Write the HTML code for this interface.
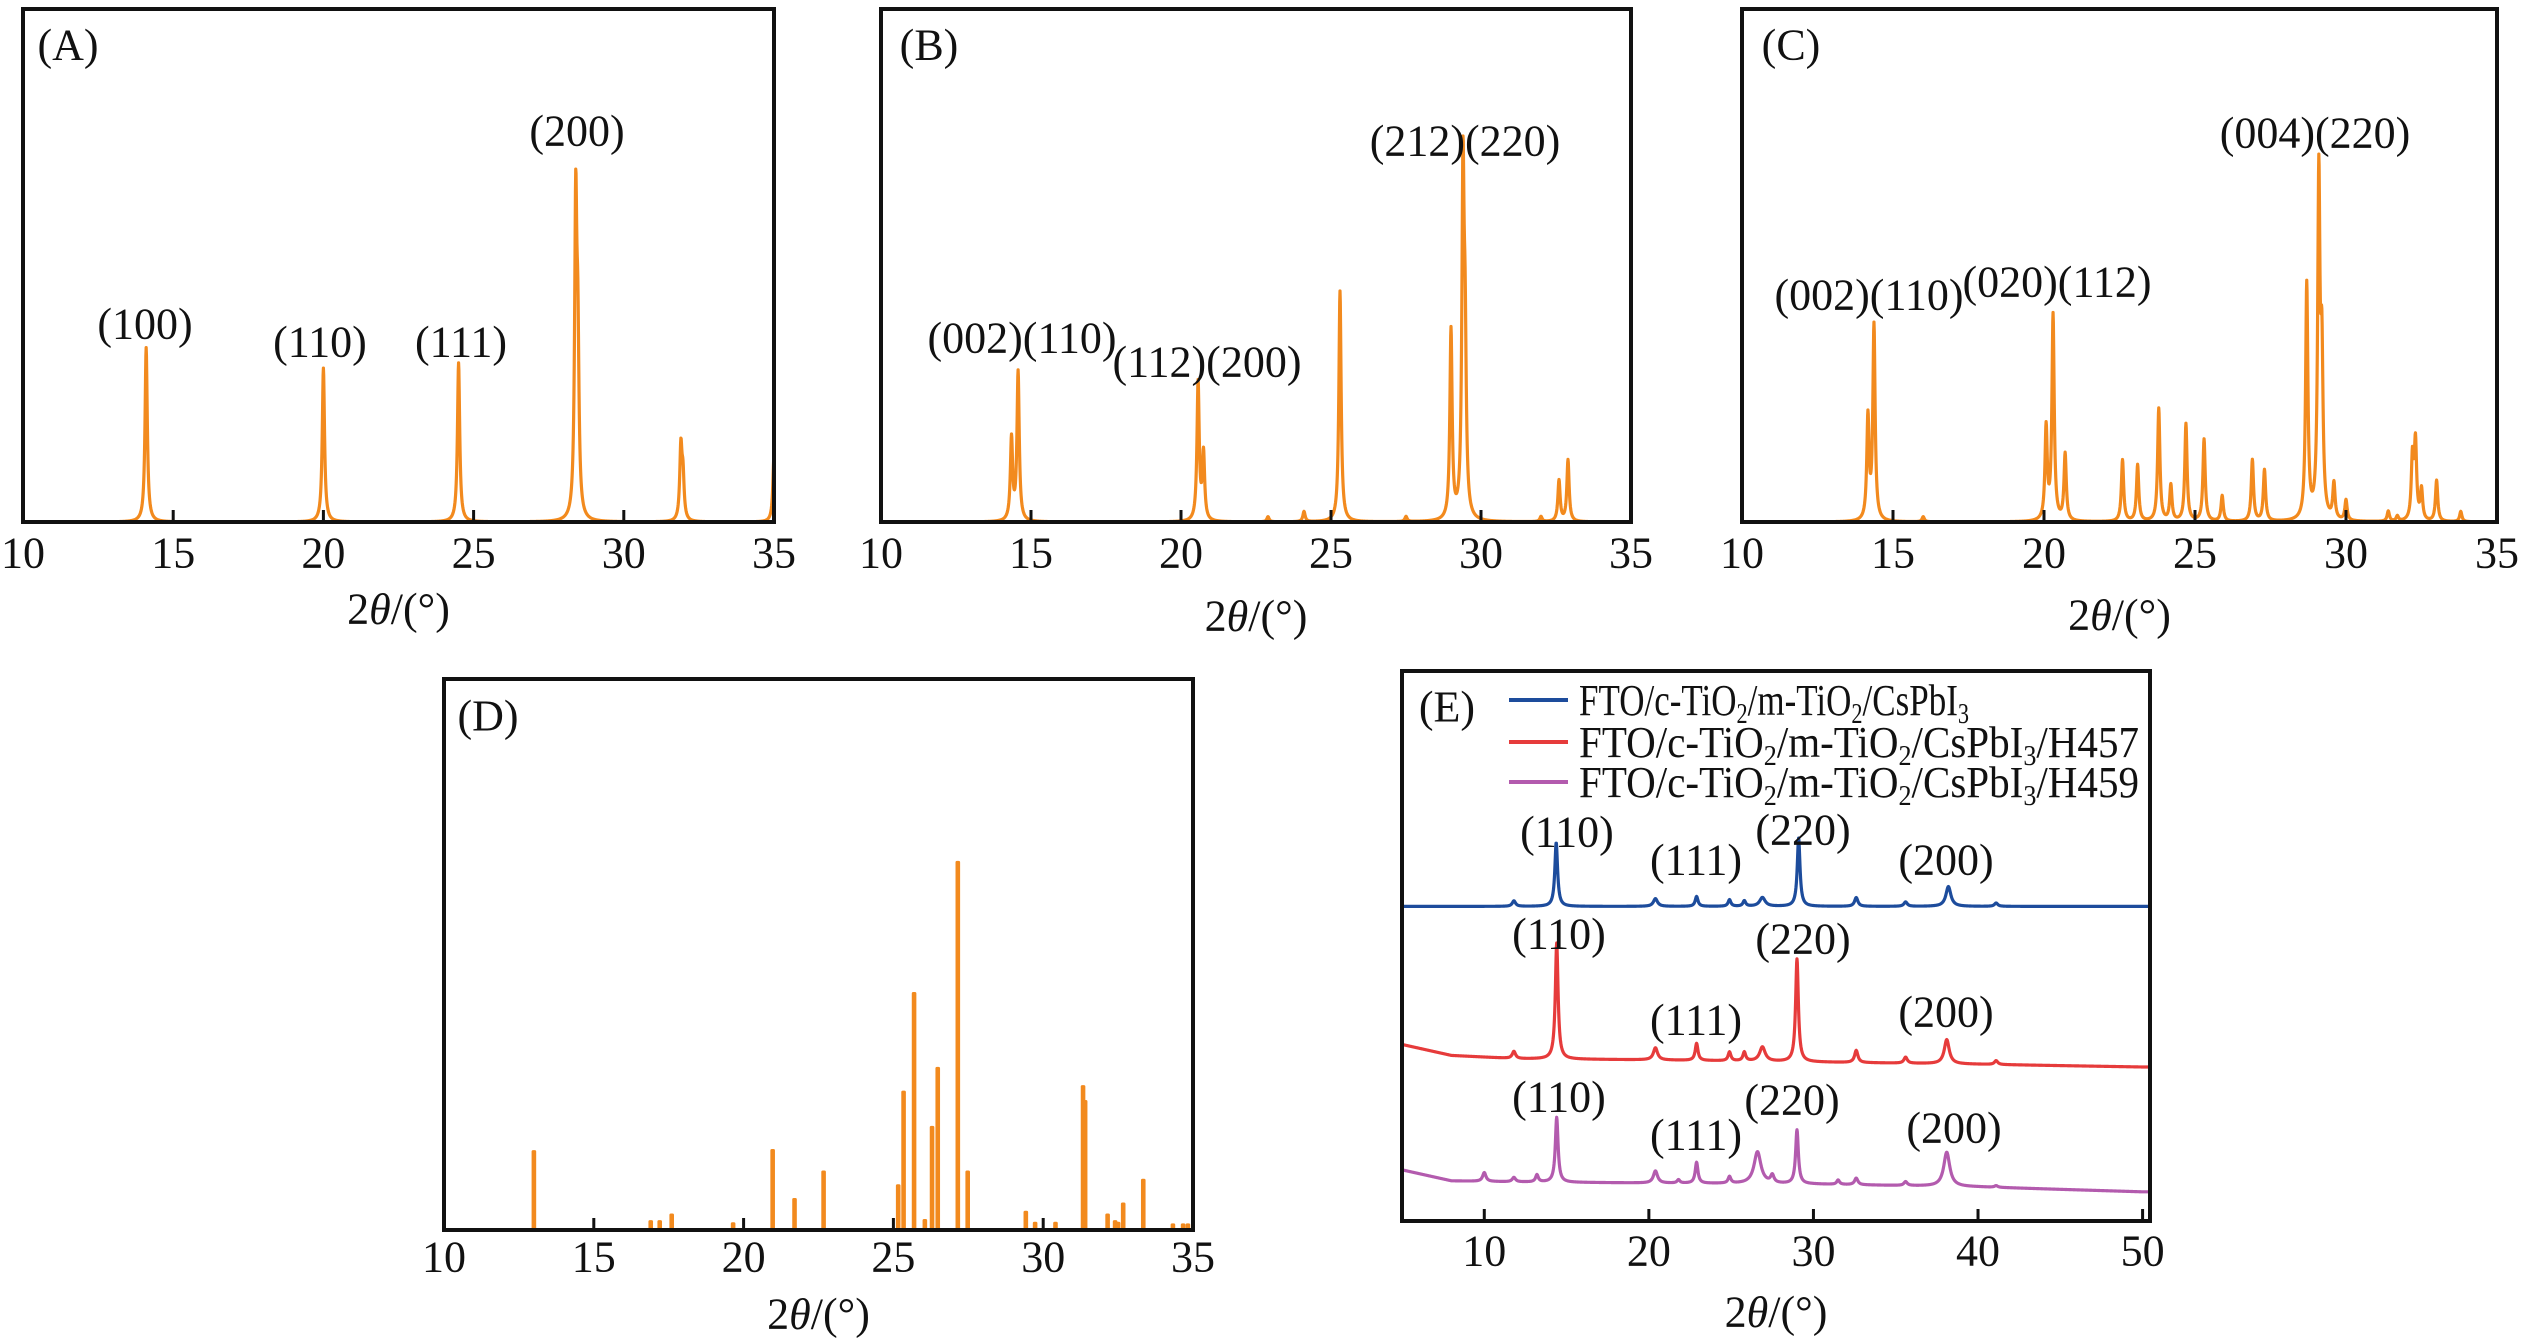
<!DOCTYPE html>
<html><head><meta charset="utf-8"><style>
html,body{margin:0;padding:0;background:#fff;}
svg{display:block;}
text{font-family:"Liberation Serif",serif;fill:#111;}
</style></head><body>
<svg id="fig" width="2527" height="1338" viewBox="0 0 2527 1338" xmlns="http://www.w3.org/2000/svg"></svg>
<script>
// ---- Panel A data (2θ peak positions, relative heights 0-100 of frame) ----
const peaksA_pos = [14.1, 20.0, 24.5, 28.4, 28.47, 31.9, 31.97, 35.0];
const peaksA_h   = [34, 30, 31, 60, 30, 14, 8, 13];
const labelsA = ["(100)", "(110)", "(111)", "(200)"];
// ---- Panel B ----
const peaksB_pos = [14.35, 14.57, 20.57, 20.75, 22.9, 24.1, 25.3, 27.5, 29.0, 29.4, 29.47, 32.0, 32.6, 32.9];
const peaksB_h   = [16, 29, 27, 13, 1, 2, 45, 1, 37, 66, 30, 1, 8, 12];
const labelsB = ["(002)(110)", "(112)(200)", "(212)(220)"];
// ---- Panel C ----
const peaksC_pos = [14.17, 14.37, 16.0, 20.07, 20.3, 20.7, 22.6, 23.1, 23.8, 24.2, 24.7, 25.3, 25.9, 26.9, 27.3, 28.7, 29.1, 29.2, 29.6, 30.0, 31.4, 31.7, 32.2, 32.3, 32.5, 33.0, 33.8];
const peaksC_h   = [20, 38, 1, 18, 40, 13, 12, 11, 22, 7, 19, 16, 5, 12, 10, 46, 66, 30, 7, 4, 2, 1, 12, 15, 6, 8, 2];
const labelsC = ["(002)(110)", "(020)(112)", "(004)(220)"];
// ---- Panel D (stick pattern) ----
const barsD_pos = [13.0, 16.9, 17.2, 17.6, 19.65, 20.97, 21.7, 22.67, 25.16, 25.34, 25.69, 26.05, 26.29, 26.48, 27.15, 27.48, 29.42, 29.73, 30.41, 31.33, 31.4, 32.15, 32.4, 32.5, 32.67, 33.34, 34.33, 34.67, 34.83];
const barsD_h   = [14.5, 1.8, 1.8, 3, 1.4, 14.7, 5.8, 10.8, 8.3, 25.3, 43.2, 2, 18.9, 29.6, 67, 10.8, 3.5, 1.5, 1.5, 26.3, 23.6, 3, 1.8, 1.5, 5, 9.3, 1.2, 1.2, 1.2];
// ---- Panel E (measured films) ----
const xTicksABCD = [10, 15, 20, 25, 30, 35];
const xTicksE = [10, 20, 30, 40, 50];
const baseE_x = [5, 8, 12, 20, 30, 40, 50];
const baseBlue = [57.2, 57.2, 57.2, 57.2, 57.2, 57.2, 57.2];
const baseRed = [32.1, 30.1, 29.5, 29.3, 28.9, 28.5, 28.0];
const basePurple = [9.3, 7.3, 7.1, 6.9, 6.7, 6.2, 5.3];
const peaksBlue_pos = [11.8, 14.37, 20.4, 22.9, 24.9, 25.8, 26.9, 29.1, 32.6, 35.6, 38.2, 41.1];
const peaksBlue_h   = [1.0, 11.6, 1.4, 1.8, 1.2, 1.0, 1.6, 12.4, 1.6, 0.8, 3.6, 0.6];
const peaksBlue_w   = [0.12, 0.1, 0.15, 0.1, 0.1, 0.1, 0.2, 0.1, 0.12, 0.12, 0.18, 0.12];
const peaksRed_pos = [11.8, 14.4, 20.4, 22.9, 24.9, 25.8, 26.9, 29.0, 32.6, 35.6, 38.1, 41.1];
const peaksRed_h   = [1.3, 21.1, 2.2, 3.1, 1.6, 1.6, 2.6, 18.7, 2.2, 1.1, 4.4, 0.7];
const peaksRed_w   = [0.12, 0.1, 0.15, 0.1, 0.1, 0.1, 0.2, 0.1, 0.12, 0.12, 0.18, 0.12];
const peaksPurple_pos = [10.0, 11.8, 13.2, 14.4, 20.4, 21.8, 22.9, 24.9, 26.6, 27.5, 29.0, 31.5, 32.6, 35.6, 38.1, 41.1];
const peaksPurple_h   = [1.6, 0.8, 1.3, 11.8, 2.2, 0.6, 3.8, 1.2, 5.8, 1.4, 9.8, 0.8, 1.2, 0.7, 6.2, 0.3];
const peaksPurple_w   = [0.12, 0.12, 0.1, 0.1, 0.15, 0.1, 0.1, 0.1, 0.25, 0.12, 0.1, 0.1, 0.12, 0.12, 0.22, 0.12];
const labelsE = ["(110)", "(111)", "(220)", "(200)"];
const legendE = ["FTO/c-TiO2/m-TiO2/CsPbI3", "FTO/c-TiO2/m-TiO2/CsPbI3/H457", "FTO/c-TiO2/m-TiO2/CsPbI3/H459"];

const NS = "http://www.w3.org/2000/svg";
const svg = document.getElementById("fig");
const ORANGE = "#F28A1E";
function mk(tag, attrs, parent) {
  const e = document.createElementNS(NS, tag);
  for (const k in attrs) e.setAttribute(k, attrs[k]);
  (parent || svg).appendChild(e);
  return e;
}
function lor(x, p, h, w) { const d = (x - p) / w; return h / (1 + d * d); }
function interp(xs, ys, x) {
  if (x <= xs[0]) return ys[0];
  for (let i = 1; i < xs.length; i++) if (x <= xs[i]) { const t = (x - xs[i-1]) / (xs[i] - xs[i-1]); return ys[i-1] + t * (ys[i] - ys[i-1]); }
  return ys[ys.length - 1];
}
function makePanel(name, L, R, T, B, xmin, xmax) {
  const g = mk("g", {});
  
  
  return { g, L, R, T, B, sx: v => L + (v - xmin) / (xmax - xmin) * (R - L), sy: v => B - v / 100 * (B - T), xmin, xmax };
}
function frame(p, ticks, tickLabelY, titleY) {
  const clipId = "clip" + Math.round(p.L);
  const cp = mk("clipPath", { id: clipId }, p.g);
  mk("rect", { x: p.L, y: p.T, width: p.R - p.L, height: p.B - p.T }, cp);
  p.plot = mk("g", { "clip-path": "url(#" + clipId + ")" }, p.g);
  
  
  ticks.forEach(t => {
    const x = p.sx(t);
    const tk = mk("line", { x1: x, x2: x, y1: p.B, y2: p.B - 12, stroke: "#111", "stroke-width": 3 }, p.g);
    
    
    const tl = mk("text", { x: x, y: tickLabelY, "font-size": 44, "text-anchor": "middle", "dominant-baseline": "central" }, p.g);
    tl.textContent = t;
    
    
  });
  const tt = mk("text", { x: (p.L + p.R) / 2, y: titleY, "font-size": 44, "text-anchor": "middle", "dominant-baseline": "central" }, p.g);
  tt.innerHTML = '2<tspan font-style="italic">θ</tspan>/(°)';
  
  
}
function border(p) {
  const r = mk("rect", { x: p.L, y: p.T, width: p.R - p.L, height: p.B - p.T, fill: "none", stroke: "#111", "stroke-width": 4 }, p.g);
  
  
}
function text(p, s, x, y, name, size) {
  const t = mk("text", { x: x, y: y, "font-size": size || 44, "text-anchor": "middle", "dominant-baseline": "central" }, p.g);
  t.textContent = s;
  
  
  return t;
}
function peakCurve(p, pos, h, w, color, name) {
  let d = "";
  for (let x = p.xmin; x <= p.xmax + 1e-9; x += 0.01) {
    let v = 0;
    for (let i = 0; i < pos.length; i++) v += lor(x, pos[i], h[i], w);
    d += (d ? "L" : "M") + p.sx(x).toFixed(2) + "," + p.sy(v).toFixed(2);
  }
  const path = mk("path", { d: d, fill: "none", stroke: color, "stroke-width": 3.2, "stroke-linejoin": "round" }, p.plot);
  
  
}
function peakCurveE(p, bx, by, pos, h, w, color, name) {
  let d = "";
  for (let x = p.xmin; x <= p.xmax + 1e-9; x += 0.02) {
    let v = interp(bx, by, x);
    for (let i = 0; i < pos.length; i++) v += lor(x, pos[i], h[i], w[i]);
    d += (d ? "L" : "M") + p.sx(x).toFixed(2) + "," + p.sy(v).toFixed(2);
  }
  const path = mk("path", { d: d, fill: "none", stroke: color, "stroke-width": 3.2, "stroke-linejoin": "round" }, p.plot);
  
  
}

// Panel A
const pA = makePanel("panel-a", 23, 774, 9, 522, 10, 35);
frame(pA, xTicksABCD, 553, 609);
peakCurve(pA, peaksA_pos, peaksA_h, 0.045, ORANGE, "pattern-a");
border(pA);
text(pA, "(A)", 68, 45, "panel-label");
text(pA, labelsA[0], 145, 324, "peak-label");
text(pA, labelsA[1], 320, 342, "peak-label");
text(pA, labelsA[2], 461, 342, "peak-label");
text(pA, labelsA[3], 577, 131, "peak-label");

// Panel B
const pB = makePanel("panel-b", 881, 1631, 9, 522, 10, 35);
frame(pB, xTicksABCD, 553, 616);
peakCurve(pB, peaksB_pos, peaksB_h, 0.045, ORANGE, "pattern-b");
border(pB);
text(pB, "(B)", 929, 45, "panel-label");
text(pB, labelsB[0], 1022, 338, "peak-label");
text(pB, labelsB[1], 1207, 362, "peak-label");
text(pB, labelsB[2], 1465, 141, "peak-label");

// Panel C
const pC = makePanel("panel-c", 1742, 2497, 9, 522, 10, 35);
frame(pC, xTicksABCD, 553, 615);
peakCurve(pC, peaksC_pos, peaksC_h, 0.045, ORANGE, "pattern-c");
border(pC);
text(pC, "(C)", 1791, 45, "panel-label");
text(pC, labelsC[0], 1869, 295, "peak-label");
text(pC, labelsC[1], 2057, 282, "peak-label");
text(pC, labelsC[2], 2315, 133, "peak-label");

// Panel D
const pD = makePanel("panel-d", 444, 1193, 679, 1230, 10, 35);
frame(pD, xTicksABCD, 1257, 1314);
barsD_pos.forEach((v, i) => {
  const x = pD.sx(v), y = pD.sy(barsD_h[i]);
  const b = mk("rect", { x: x - 2.3, y: y, width: 4.6, height: pD.B - y, fill: ORANGE, rx: 1.5 }, pD.plot);
  
  
});
border(pD);
text(pD, "(D)", 488, 716, "panel-label");

// Panel E
const pE = makePanel("panel-e", 1402, 2150, 671, 1221, 5, 50.45);
frame(pE, xTicksE, 1251, 1312);
const BLUE = "#1D4C9C", RED = "#E63B3B", PURPLE = "#B35BAE";
peakCurveE(pE, baseE_x, baseBlue, peaksBlue_pos, peaksBlue_h, peaksBlue_w, BLUE, "trace-cspbi3");
peakCurveE(pE, baseE_x, baseRed, peaksRed_pos, peaksRed_h, peaksRed_w, RED, "trace-h457");
peakCurveE(pE, baseE_x, basePurple, peaksPurple_pos, peaksPurple_h, peaksPurple_w, PURPLE, "trace-h459");
border(pE);
text(pE, "(E)", 1447, 707, "panel-label");
[[BLUE, 700], [RED, 742], [PURPLE, 782]].forEach((c, i) => {
  const ln = mk("line", { x1: 1509, x2: 1568, y1: c[1], y2: c[1], stroke: c[0], "stroke-width": 4 }, pE.g);
  
  
  const t = mk("text", { x: 1579, y: c[1] + 15, "font-size": 44, textLength: i === 0 ? 390 : 560, lengthAdjust: "spacingAndGlyphs" }, pE.g);
  const sub = '<tspan font-size="28" dy="8">';
  let html = 'FTO/c-TiO' + sub + '2</tspan><tspan dy="-8">/m-TiO</tspan>' + sub + '2</tspan><tspan dy="-8">/CsPbI</tspan>' + sub + '3</tspan>';
  if (i > 0) html += '<tspan dy="-8">' + legendE[i].slice(legendE[i].lastIndexOf('/')) + '</tspan>';
  t.innerHTML = html;
  
  
});
text(pE, labelsE[0], 1567, 832, "peak-label");
text(pE, labelsE[1], 1696, 860, "peak-label");
text(pE, labelsE[2], 1803, 830, "peak-label");
text(pE, labelsE[3], 1946, 860, "peak-label");
text(pE, labelsE[0], 1559, 934, "peak-label");
text(pE, labelsE[2], 1803, 939, "peak-label");
text(pE, labelsE[1], 1696, 1020, "peak-label");
text(pE, labelsE[3], 1946, 1012, "peak-label");
text(pE, labelsE[0], 1559, 1097, "peak-label");
text(pE, labelsE[1], 1696, 1135, "peak-label");
text(pE, labelsE[2], 1792, 1100, "peak-label");
text(pE, labelsE[3], 1954, 1128, "peak-label");
</script>
</body></html>
